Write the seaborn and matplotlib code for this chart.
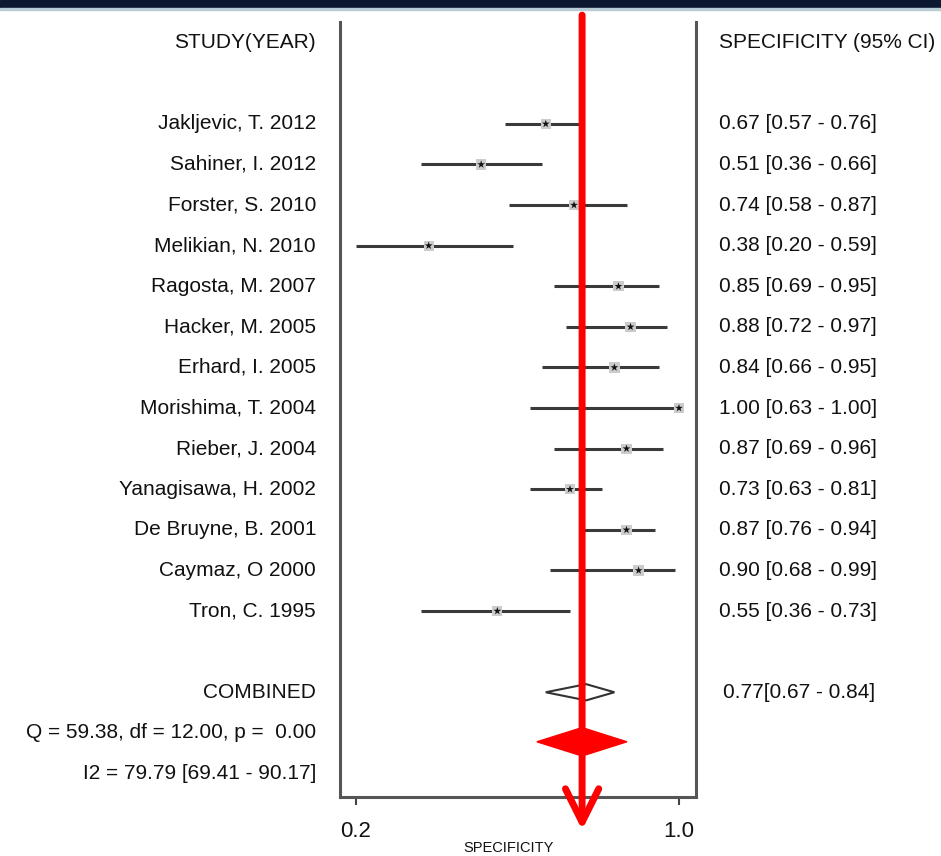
import matplotlib
matplotlib.use("Agg")
import matplotlib.pyplot as plt
import matplotlib.transforms as mtransforms
from matplotlib.patches import Rectangle, Polygon
import pandas as pd
import seaborn as sns

# === DATA ===
studies = ["Jakljevic, T. 2012", "Sahiner, I. 2012", "Forster, S. 2010", "Melikian, N. 2010",
           "Ragosta, M. 2007", "Hacker, M. 2005", "Erhard, I. 2005", "Morishima, T. 2004",
           "Rieber, J. 2004", "Yanagisawa, H. 2002", "De Bruyne, B. 2001", "Caymaz, O 2000",
           "Tron, C. 1995"]
spec = [0.67, 0.51, 0.74, 0.38, 0.85, 0.88, 0.84, 1.00, 0.87, 0.73, 0.87, 0.90, 0.55]
ci_low = [0.57, 0.36, 0.58, 0.20, 0.69, 0.72, 0.66, 0.63, 0.69, 0.63, 0.76, 0.68, 0.36]
ci_high = [0.76, 0.66, 0.87, 0.59, 0.95, 0.97, 0.95, 1.00, 0.96, 0.81, 0.94, 0.99, 0.73]
combined = 0.77
combined_low = 0.67
combined_high = 0.84
q_text = "Q = 59.38, df = 12.00, p =  0.00"
i2_text = "I2 = 79.79 [69.41 - 90.17]"
red_mark = 0.76
xticks = [0.2, 1.0]

df = pd.DataFrame({"study": studies, "spec": spec, "lo": ci_low, "hi": ci_high})
df["row"] = range(len(df))
row_comb = len(df) + 1

sns.set_style("white")
plt.rcParams['font.family'] = ['Liberation Sans', 'DejaVu Sans']
plt.rcParams['text.color'] = '#111111'

W, H = 941, 856
fig = plt.figure(figsize=(W / 100, H / 100), dpi=100)
ax = fig.add_axes([340 / W, (H - 797) / H, (696 - 340) / W, (797 - 22) / H])

# confidence intervals + point estimates
ax.hlines(df["row"], df["lo"], df["hi"], color="#3a3a3a", lw=2.2, zorder=2)
sns.scatterplot(data=df, x="spec", y="row", marker="s", s=55, color="#cccccc",
                edgecolor="none", ax=ax, zorder=3)
sns.scatterplot(data=df, x="spec", y="row", marker="*", s=35, color="#111111",
                edgecolor="none", ax=ax, zorder=4)

# combined diamond (hollow)
ax.add_patch(Polygon([[combined_low, row_comb], [combined, row_comb - 0.2],
                      [combined_high, row_comb], [combined, row_comb + 0.2]],
                     closed=True, fill=False, edgecolor="#333333", lw=1.5, zorder=3))

ax.set_xlim(0.2 - 16 / 403.75, 1.0 + 17 / 403.75)
ax.set_ylim(16.58, -2.51)
ax.set_yticks([])
ax.set_ylabel("")
ax.set_xlabel("")
ax.set_xticks(xticks)
ax.set_xticklabels(["0.2", "1.0"], fontsize=16, color="#111111")
ax.tick_params(axis="x", direction="out", length=6, width=1.5, color="#444444", pad=11,
               bottom=True)
for side in ["left", "right", "bottom"]:
    ax.spines[side].set_color("#555555")
    ax.spines[side].set_linewidth(2.2)
ax.spines["top"].set_visible(False)

# text columns
tl = mtransforms.blended_transform_factory(fig.transFigure, ax.transData)
lx = 316 / W
rx = 719 / W
fs = 15
ax.text(lx, -2, "STUDY(YEAR)", transform=tl, ha="right", va="center", fontsize=fs)
ax.text(rx, -2, "SPECIFICITY (95% CI)", transform=tl, ha="left", va="center", fontsize=fs)
for _, r in df.iterrows():
    ax.text(lx, r["row"], r["study"], transform=tl, ha="right", va="center", fontsize=fs)
    ax.text(rx, r["row"], f"{r['spec']:.2f} [{r['lo']:.2f} - {r['hi']:.2f}]", transform=tl,
            ha="left", va="center", fontsize=fs)
ax.text(lx, row_comb, "COMBINED", transform=tl, ha="right", va="center", fontsize=fs)
ax.text(723 / W, row_comb, f"{combined:.2f}[{combined_low:.2f} - {combined_high:.2f}]",
        transform=tl, ha="left", va="center", fontsize=fs)
ax.text(lx, row_comb + 1, q_text, transform=tl, ha="right", va="center", fontsize=fs)
ax.text(lx, row_comb + 2, i2_text, transform=tl, ha="right", va="center", fontsize=fs)
fig.text(509 / W, 1 - 848 / H, "SPECIFICITY", ha="center", va="center", fontsize=10.5)

# red overlay: arrow and diamond
ax.annotate("", xy=(red_mark, 17.39), xytext=(red_mark, -2.68), xycoords="data",
            arrowprops=dict(arrowstyle="->,head_length=1.2,head_width=0.6",
                            color="red", lw=5, mutation_scale=20, shrinkA=0, shrinkB=0),
            annotation_clip=False, zorder=6)
ax.add_patch(Polygon([[0.648, 15.22], [red_mark, 14.87], [0.871, 15.22], [red_mark, 15.57]],
                     closed=True, color="red", zorder=6, clip_on=False))

# navy banner on top
fig.patches.append(Rectangle((0, 1 - 8 / H), 1, 8 / H, transform=fig.transFigure,
                             color="#0c1730", zorder=10))
fig.patches.append(Rectangle((0, 1 - 10 / H), 1, 2 / H, transform=fig.transFigure,
                             color="#b8ccd6", zorder=10))

fig.savefig("out.png", dpi=100)
